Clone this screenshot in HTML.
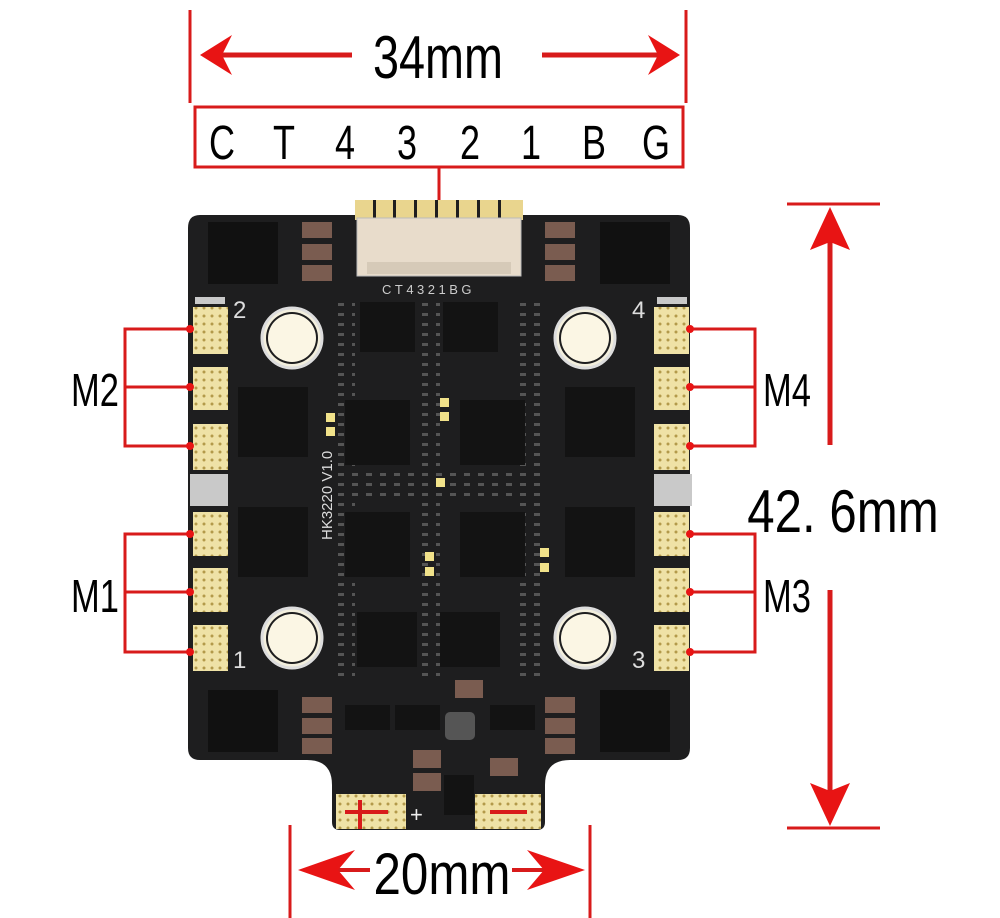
<!DOCTYPE html>
<html><head><meta charset="utf-8"><style>
html,body{margin:0;padding:0;background:#fff;width:1000px;height:918px;overflow:hidden}
svg{display:block}
.t{font-family:"Liberation Sans",sans-serif;fill:#000}
</style></head><body>
<svg width="1000" height="918" viewBox="0 0 1000 918" xmlns="http://www.w3.org/2000/svg">
<defs>
<pattern id="dots" width="8" height="8" patternUnits="userSpaceOnUse"><rect width="8" height="8" fill="#efe2a6"/><circle cx="4" cy="4" r="1.5" fill="#b39a4a"/></pattern>
<pattern id="sm" width="14" height="10" patternUnits="userSpaceOnUse"><rect width="14" height="10" fill="#1e1e1f"/><rect x="2" y="3" width="6" height="3" fill="#555"/></pattern>
</defs>
<path d="M200,215 H678 Q690,215 690,228 V748 Q690,760 678,760 H570 Q545,760 545,785 V822 Q545,830 537,830 H340 Q332,830 332,822 V785 Q332,760 307,760 H200 Q188,760 188,748 V228 Q188,215 200,215 Z" fill="#1e1e1f"/>
<g fill="url(#sm)"><rect x="330" y="300" width="25" height="380"/><rect x="520" y="300" width="25" height="380"/><rect x="415" y="300" width="25" height="380"/><rect x="345" y="470" width="190" height="30"/></g>
<rect x="355" y="200" width="168" height="20" fill="#e9d58e"/>
<g fill="#1e1e1f"><rect x="373" y="200" width="3" height="20"/><rect x="393" y="200" width="3" height="20"/><rect x="414" y="200" width="3" height="20"/><rect x="435" y="200" width="3" height="20"/><rect x="456" y="200" width="3" height="20"/><rect x="477" y="200" width="3" height="20"/><rect x="498" y="200" width="3" height="20"/></g>
<rect x="357" y="218" width="164" height="58" fill="#e8dccb" stroke="#bbb"/>
<rect x="367" y="262" width="144" height="12" fill="#d6cab8"/>
<g fill="#111"><rect x="208" y="222" width="70" height="62"/><rect x="600" y="222" width="70" height="62"/><rect x="208" y="690" width="70" height="62"/><rect x="600" y="690" width="70" height="62"/></g>
<g fill="#7a5c50"><rect x="302" y="222" width="30" height="16"/><rect x="302" y="244" width="30" height="16"/><rect x="302" y="265" width="30" height="16"/>
<rect x="545" y="222" width="30" height="16"/><rect x="545" y="244" width="30" height="16"/><rect x="545" y="265" width="30" height="16"/>
<rect x="302" y="697" width="30" height="16"/><rect x="302" y="718" width="30" height="16"/><rect x="302" y="738" width="30" height="16"/>
<rect x="545" y="697" width="30" height="16"/><rect x="545" y="718" width="30" height="16"/><rect x="545" y="738" width="30" height="16"/>
<rect x="413" y="750" width="28" height="18"/><rect x="413" y="773" width="28" height="18"/><rect x="490" y="758" width="28" height="18"/><rect x="455" y="680" width="28" height="18"/></g>
<g fill="#f3efdd" stroke="#ddd" stroke-width="3"><circle cx="292" cy="338" r="30"/><circle cx="585" cy="338" r="30"/><circle cx="292" cy="638" r="30"/><circle cx="585" cy="638" r="30"/></g>
<g fill="#1e1e1f"><circle cx="292" cy="338" r="26"/><circle cx="585" cy="338" r="26"/><circle cx="292" cy="638" r="26"/><circle cx="585" cy="638" r="26"/></g>
<g fill="#fbf6e4"><circle cx="292" cy="338" r="24"/><circle cx="585" cy="338" r="24"/><circle cx="292" cy="638" r="24"/><circle cx="585" cy="638" r="24"/></g>
<g class="t" font-size="24" style="fill:#ddd"><text x="233" y="318">2</text><text x="632" y="318">4</text><text x="233" y="668">1</text><text x="632" y="668">3</text></g>
<g fill="#131313"><rect x="238" y="387" width="70" height="70"/><rect x="238" y="507" width="70" height="70"/><rect x="565" y="387" width="70" height="70"/><rect x="565" y="507" width="70" height="70"/>
<rect x="360" y="302" width="55" height="50"/><rect x="443" y="302" width="55" height="50"/><rect x="345" y="400" width="65" height="65"/><rect x="460" y="400" width="65" height="65"/><rect x="345" y="512" width="65" height="65"/><rect x="460" y="512" width="65" height="65"/><rect x="357" y="612" width="60" height="55"/><rect x="440" y="612" width="60" height="55"/>
<rect x="345" y="705" width="45" height="25"/><rect x="395" y="705" width="45" height="25"/><rect x="490" y="705" width="45" height="25"/><rect x="444" y="775" width="30" height="40"/></g>
<rect x="445" y="712" width="30" height="28" fill="#555" rx="5"/>
<text x="382" y="294" class="t" font-size="13" style="fill:#ccc" letter-spacing="3.5">CT4321BG</text>
<g fill="#f1e28a"><rect x="326" y="413" width="9" height="9"/><rect x="326" y="427" width="9" height="9"/><rect x="440" y="398" width="9" height="9"/><rect x="440" y="412" width="9" height="9"/><rect x="436" y="478" width="9" height="9"/><rect x="425" y="552" width="9" height="9"/><rect x="425" y="567" width="9" height="9"/><rect x="540" y="548" width="9" height="9"/><rect x="540" y="563" width="9" height="9"/></g>
<text transform="translate(332,540) rotate(-90)" class="t" font-size="15" style="fill:#ddd">HK3220 V1.0</text>
<g fill="url(#dots)">
<rect x="193" y="307" width="35" height="47"/><rect x="193" y="367" width="35" height="43"/><rect x="193" y="424" width="35" height="46"/>
<rect x="193" y="512" width="35" height="44"/><rect x="193" y="568" width="35" height="44"/><rect x="193" y="625" width="35" height="46"/>
<rect x="654" y="307" width="35" height="47"/><rect x="654" y="367" width="35" height="43"/><rect x="654" y="424" width="35" height="46"/>
<rect x="654" y="512" width="35" height="44"/><rect x="654" y="568" width="35" height="44"/><rect x="654" y="625" width="35" height="46"/>
<rect x="336" y="794" width="70" height="35"/><rect x="475" y="794" width="66" height="35"/></g>
<g fill="#c9c9c9"><rect x="190" y="474" width="38" height="32"/><rect x="654" y="474" width="38" height="32"/><rect x="195" y="297" width="30" height="7"/><rect x="657" y="297" width="30" height="7"/></g>
<text x="410" y="822" class="t" font-size="22" style="fill:#eee">+</text>
<g stroke="#d81b1b" stroke-width="3" fill="none">
<line x1="190" y1="10" x2="190" y2="103"/><line x1="686" y1="10" x2="686" y2="103"/>
<line x1="215" y1="55" x2="352" y2="55" stroke-width="5"/><line x1="542" y1="55" x2="665" y2="55" stroke-width="5"/>
<rect x="195" y="107" width="488" height="60"/><line x1="439" y1="167" x2="439" y2="200"/>
<line x1="787" y1="204" x2="880" y2="204"/><line x1="787" y1="828" x2="880" y2="828"/>
<line x1="830" y1="225" x2="830" y2="445" stroke-width="5"/><line x1="830" y1="590" x2="830" y2="805" stroke-width="5"/>
<line x1="290" y1="825" x2="290" y2="918"/><line x1="590" y1="825" x2="590" y2="918"/>
<line x1="320" y1="870" x2="370" y2="870" stroke-width="4"/><line x1="512" y1="870" x2="570" y2="870" stroke-width="4"/>
<polyline points="190,329 125,329 125,446 190,446"/><line x1="125" y1="387" x2="190" y2="387"/>
<polyline points="190,534 125,534 125,652 190,652"/><line x1="125" y1="592" x2="190" y2="592"/>
<polyline points="690,329 755,329 755,446 690,446"/><line x1="755" y1="387" x2="690" y2="387"/>
<polyline points="690,534 755,534 755,652 690,652"/><line x1="755" y1="592" x2="690" y2="592"/>
<line x1="360" y1="800" x2="360" y2="829" stroke-width="4"/><line x1="345" y1="812" x2="388" y2="812" stroke-width="4"/><line x1="490" y1="812" x2="527" y2="812" stroke-width="4"/>
</g>
<g fill="#e81414">
<polygon points="200,55 232,35 222,55 232,75"/><polygon points="680,55 648,35 658,55 648,75"/>
<polygon points="830,207 810,250 830,242 850,250"/><polygon points="830,826 810,783 830,791 850,783"/>
<polygon points="298,870 355,850 338,870 355,890"/><polygon points="585,870 527,850 544,870 527,890"/>
<circle cx="190" cy="329" r="4"/><circle cx="190" cy="387" r="4"/><circle cx="190" cy="446" r="4"/><circle cx="190" cy="534" r="4"/><circle cx="190" cy="592" r="4"/><circle cx="190" cy="652" r="4"/>
<circle cx="690" cy="329" r="4"/><circle cx="690" cy="387" r="4"/><circle cx="690" cy="446" r="4"/><circle cx="690" cy="534" r="4"/><circle cx="690" cy="592" r="4"/><circle cx="690" cy="652" r="4"/>
</g>
<g class="t">
<text x="438" y="78" font-size="60" text-anchor="middle" transform="translate(438,0) scale(0.78,1) translate(-438,0)">34mm</text>
<g font-size="48" text-anchor="middle">
<text x="222" y="159" transform="translate(222,0) scale(0.75,1) translate(-222,0)">C</text>
<text x="284" y="159" transform="translate(284,0) scale(0.75,1) translate(-284,0)">T</text>
<text x="345" y="159" transform="translate(345,0) scale(0.75,1) translate(-345,0)">4</text>
<text x="407" y="159" transform="translate(407,0) scale(0.75,1) translate(-407,0)">3</text>
<text x="470" y="159" transform="translate(470,0) scale(0.75,1) translate(-470,0)">2</text>
<text x="531" y="159" transform="translate(531,0) scale(0.75,1) translate(-531,0)">1</text>
<text x="594" y="159" transform="translate(594,0) scale(0.75,1) translate(-594,0)">B</text>
<text x="656" y="159" transform="translate(656,0) scale(0.75,1) translate(-656,0)">G</text>
</g>
<text x="95" y="406" font-size="46" text-anchor="middle" transform="translate(95,0) scale(0.75,1) translate(-95,0)">M2</text>
<text x="95" y="612" font-size="46" text-anchor="middle" transform="translate(95,0) scale(0.75,1) translate(-95,0)">M1</text>
<text x="787" y="406" font-size="46" text-anchor="middle" transform="translate(787,0) scale(0.75,1) translate(-787,0)">M4</text>
<text x="787" y="612" font-size="46" text-anchor="middle" transform="translate(787,0) scale(0.75,1) translate(-787,0)">M3</text>
<text x="843" y="532" font-size="60" text-anchor="middle" transform="translate(843,0) scale(0.82,1) translate(-843,0)">42. 6mm</text>
<text x="442" y="894" font-size="58" text-anchor="middle" transform="translate(442,0) scale(0.85,1) translate(-442,0)">20mm</text>
</g>
</svg>
</body></html>
